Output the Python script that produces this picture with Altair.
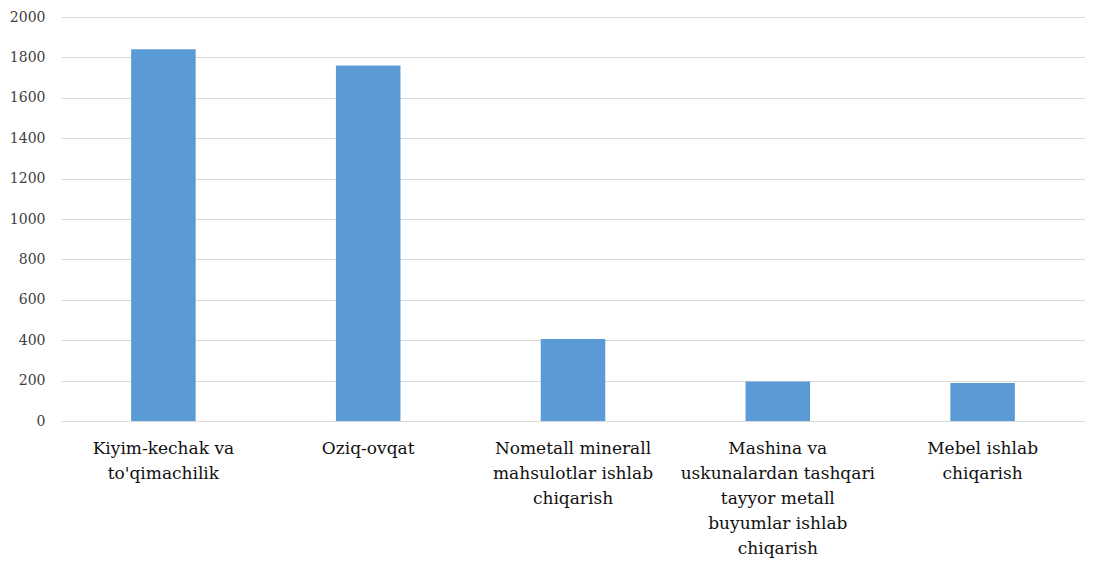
import altair as alt
import pandas as pd

categories = [
    "Kiyim-kechak va\nto'qimachilik",
    "Oziq-ovqat",
    "Nometall minerall\nmahsulotlar ishlab\nchiqarish",
    "Mashina va\nuskunalardan tashqari\ntayyor metall\nbuyumlar ishlab\nchiqarish",
    "Mebel ishlab\nchiqarish",
]
values = [1840, 1760, 406, 196, 188]
y_ticks = [0, 200, 400, 600, 800, 1000, 1200, 1400, 1600, 1800, 2000]

df = pd.DataFrame({"category": categories, "value": values})

SERIF = "DejaVu Serif"

chart = (
    alt.Chart(df)
    .mark_bar(color="#5B9BD5")
    .encode(
        x=alt.X(
            "category:N",
            sort=categories,
            title=None,
            scale=alt.Scale(paddingInner=0.685, paddingOuter=0.3425),
            axis=alt.Axis(
                labelAngle=0,
                labelExpr="split(datum.label, '\\n')",
                labelFont=SERIF,
                labelFontSize=17,
                labelLineHeight=25,
                labelColor="#111111",
                labelPadding=19,
                ticks=False,
                domain=False,
                grid=False,
                labelLimit=400,
            ),
        ),
        y=alt.Y(
            "value:Q",
            title=None,
            scale=alt.Scale(domain=[0, 2000], nice=False),
            axis=alt.Axis(
                values=y_ticks,
                format="d",
                labelFont=SERIF,
                labelFontSize=14,
                labelColor="#404040",
                labelPadding=16,
                ticks=False,
                domain=False,
                gridColor="#d9d9d9",
                gridWidth=1,
            ),
        ),
    )
    .properties(
        width=1024,
        height=404,
        autosize=alt.AutoSizeParams(type="none"),
        padding={"left": 53, "top": 9, "right": 0, "bottom": 140},
    )
    .configure_view(stroke=None)
)

chart.save("out.html", embed_options={"renderer": "svg", "actions": False})
